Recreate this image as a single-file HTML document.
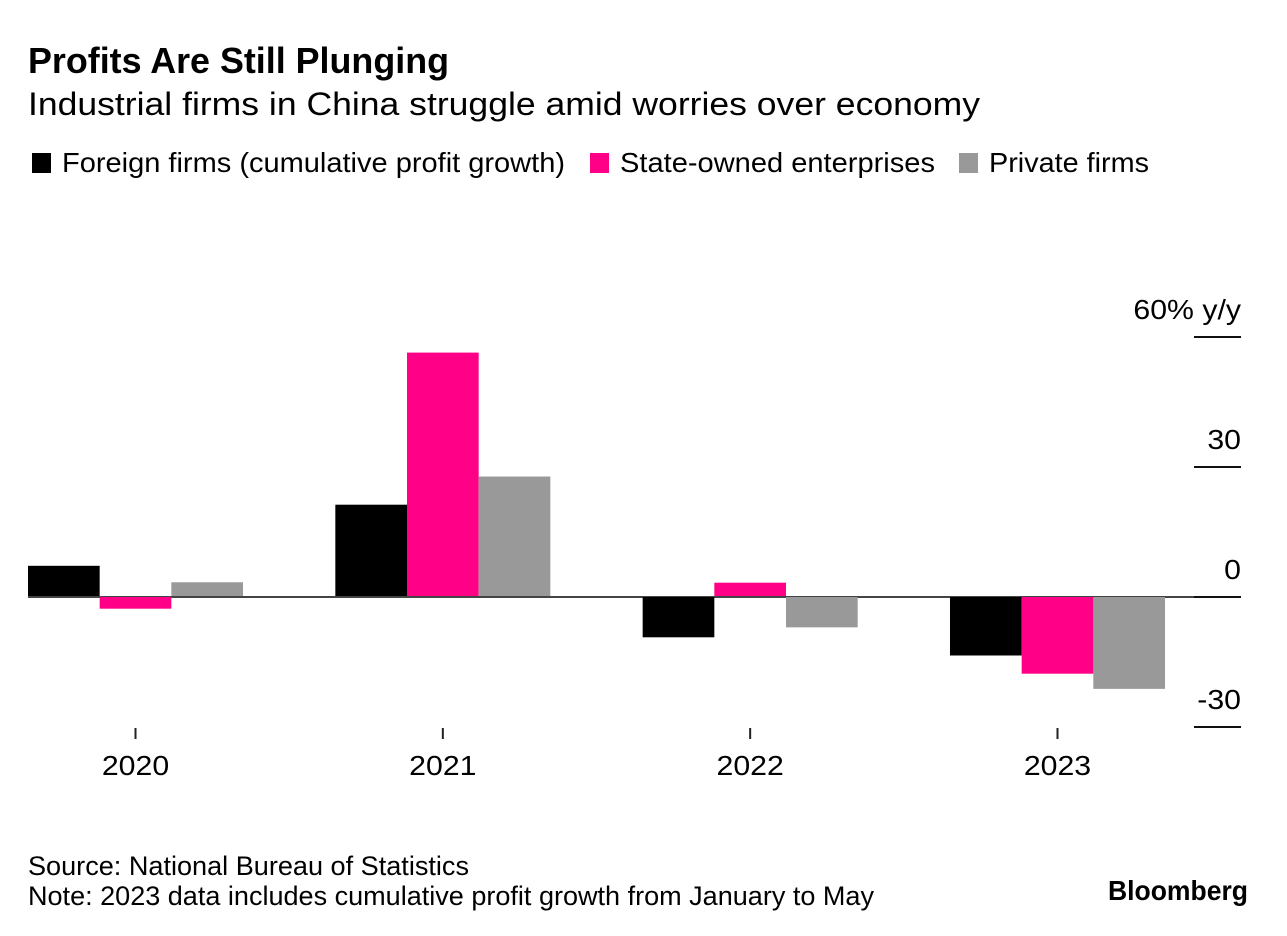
<!DOCTYPE html>
<html lang="en">
<head>
<meta charset="utf-8">
<title>Profits Are Still Plunging</title>
<style>
  html, body { margin: 0; padding: 0; background: #fff; }
  body { width: 1287px; height: 936px; overflow: hidden; }
  svg { display: block; font-family: "Liberation Sans", Arial, sans-serif; fill: #000; }
</style>
</head>
<body>
<svg id="chart" xmlns="http://www.w3.org/2000/svg" width="1287" height="936" viewBox="0 0 1287 936">
  <rect x="0" y="0" width="1287" height="936" fill="#fff"/>
  <text x="28" y="73" font-size="36" font-weight="700" textLength="421" lengthAdjust="spacingAndGlyphs">Profits Are Still Plunging</text>
  <text x="28" y="115" font-size="32" textLength="952" lengthAdjust="spacingAndGlyphs">Industrial firms in China struggle amid worries over economy</text>

  <rect x="32" y="153" width="19" height="20" fill="#000"/>
  <text x="62" y="172" font-size="28" textLength="503" lengthAdjust="spacingAndGlyphs">Foreign firms (cumulative profit growth)</text>
  <rect x="590" y="153" width="19" height="20" fill="#ff0087"/>
  <text x="620" y="172" font-size="28" textLength="315" lengthAdjust="spacingAndGlyphs">State-owned enterprises</text>
  <rect x="959" y="153" width="19" height="20" fill="#999"/>
  <text x="989" y="172" font-size="28" textLength="160" lengthAdjust="spacingAndGlyphs">Private firms</text>

  <g id="y-axis"></g>
  <g id="bars"></g>
  <g id="x-axis"></g>

  <text x="28" y="875" font-size="27" textLength="441" lengthAdjust="spacingAndGlyphs">Source: National Bureau of Statistics</text>
  <text x="28" y="905" font-size="27" textLength="846" lengthAdjust="spacingAndGlyphs">Note: 2023 data includes cumulative profit growth from January to May</text>
  <text x="1108" y="900" font-size="28" font-weight="700" textLength="140" lengthAdjust="spacingAndGlyphs">Bloomberg</text>
</svg>
<script>
const years = ["2020", "2021", "2022", "2023"];
const foreignFirms = [7.2, 21.3, -9.3, -13.5];
const stateOwned = [-2.7, 56.4, 3.3, -17.7];
const privateFirms = [3.4, 27.8, -7.0, -21.2];
const yTicks = [60, 30, 0, -30];
const yTickLabels = ["60% y/y", "30", "0", "-30"];

const NS = "http://www.w3.org/2000/svg";
const plotLeft = 28;
const groupStep = 307.33;
const barWidth = 71.67;
const axisRight = 1241;
const tickLeft = 1194;
const labelStretch = 1.08;

function yScale(v) { return 597 - v * (130 / 30); }
function groupLeft(i) { return plotLeft + i * groupStep; }
function groupCenter(i) { return groupLeft(i) + barWidth * 1.5; }

function make(tag, attrs, parent) {
  const el = document.createElementNS(NS, tag);
  for (const k in attrs) el.setAttribute(k, attrs[k]);
  parent.appendChild(el);
  return el;
}

function stretchText(el) {
  el.setAttribute("textLength", el.getComputedTextLength() * labelStretch);
  el.setAttribute("lengthAdjust", "spacingAndGlyphs");
}

const yAxis = document.getElementById("y-axis");
const barsGroup = document.getElementById("bars");
const xAxis = document.getElementById("x-axis");

/* zero baseline across the plot, drawn beneath the bars */
const baseline = make("rect", { x: plotLeft, y: yScale(0) - 1, width: tickLeft - plotLeft, height: 2, fill: "#444" }, barsGroup);



const seriesList = [
  { key: "foreign", values: foreignFirms, color: "#000" },
  { key: "state-owned", values: stateOwned, color: "#ff0087" },
  { key: "private", values: privateFirms, color: "#999" }
];

seriesList.forEach(function (s, si) {
  s.values.forEach(function (v, i) {
    const y0 = yScale(0);
    const yv = yScale(v);
    const inset = v > 0 ? 1 : 0; /* positive bars stop above the baseline rule */
    const bar = make("rect", {
      x: groupLeft(i) + si * barWidth,
      y: Math.min(y0, yv),
      width: barWidth,
      height: Math.max(0, Math.abs(yv - y0) - inset),
      fill: s.color
    }, barsGroup);
    
    
  });
});

yTicks.forEach(function (t, i) {
  const line = make("rect", { x: tickLeft, y: yScale(t) - 1, width: axisRight - tickLeft, height: 2, fill: "#111" }, yAxis);
  
  
  const label = make("text", { x: axisRight, y: yScale(t) - 18, "font-size": 28, "text-anchor": "end" }, yAxis);
  label.textContent = yTickLabels[i];
  
  
  stretchText(label);
});

years.forEach(function (yr, i) {
  const tick = make("rect", { x: groupCenter(i) - 1, y: 728, width: 2, height: 11, fill: "#222" }, xAxis);
  
  
  const label = make("text", { x: groupCenter(i), y: 775, "font-size": 28, "text-anchor": "middle" }, xAxis);
  label.textContent = yr;
  
  
  stretchText(label);
});
</script>
</body>
</html>
